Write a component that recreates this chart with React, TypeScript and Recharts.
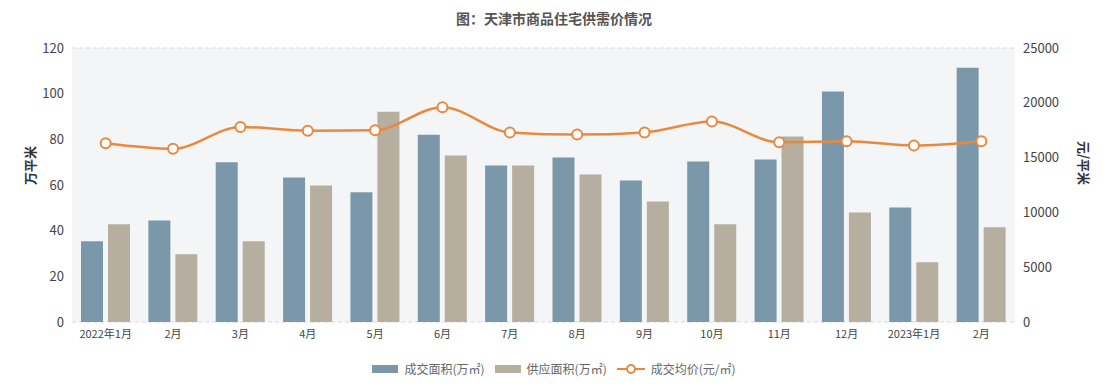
import React from "react";
import {
  ComposedChart,
  Bar,
  Line,
  XAxis,
  YAxis,
  CartesianGrid,
} from "recharts";

const months = [
  "2022年1月", "2月", "3月", "4月", "5月", "6月", "7月",
  "8月", "9月", "10月", "11月", "12月", "2023年1月", "2月",
];
const dealArea = [35.4, 44.5, 70, 63.3, 56.8, 82, 68.5, 72, 62, 70.3, 71.2, 100.9, 50.2, 111.4];
const supplyArea = [42.8, 29.7, 35.4, 59.8, 92.1, 72.9, 68.5, 64.6, 52.8, 42.8, 81.2, 48, 26.2, 41.5];
const avgPrice = [16300, 15800, 17800, 17450, 17500, 19600, 17300, 17100, 17300, 18300, 16400, 16500, 16100, 16500];

const leftTicks = [0, 20, 40, 60, 80, 100, 120];
const rightTicks = [0, 5000, 10000, 15000, 20000, 25000];

const BLUE = "#7b98aa";
const GRAY = "#b6ae9f";
const ORANGE = "#e9893e";
const FONT = "'Noto Sans CJK SC', 'Noto Sans', sans-serif";

const data = months.map((m, i) => ({
  month: m,
  deal: dealArea[i],
  supply: supplyArea[i],
  price: avgPrice[i],
}));

function LegendBox() {
  const text = { fontSize: 12, color: "#666", marginLeft: 6 };
  return (
    <div style={{ position: "absolute", top: 360, width: "100%", display: "flex", justifyContent: "center", alignItems: "center", fontFamily: FONT }}>
      <span style={{ display: "inline-block", width: 26, height: 8, background: BLUE }} />
      <span style={{ ...text, marginRight: 10 }}>成交面积(万㎡)</span>
      <span style={{ display: "inline-block", width: 26, height: 8, background: GRAY }} />
      <span style={{ ...text, marginRight: 10 }}>供应面积(万㎡)</span>
      <svg width={28} height={12}>
        <line x1={0} y1={6} x2={28} y2={6} stroke={ORANGE} strokeWidth={2} />
        <circle cx={14} cy={6} r={4} fill="#fff" stroke={ORANGE} strokeWidth={2} />
      </svg>
      <span style={text}>成交均价(元/㎡)</span>
    </div>
  );
}

export default function App() {
  return (
    <div style={{ position: "absolute", left: 0, top: 0, width: 1108, height: 390, background: "#fff", fontFamily: FONT }}>
      <div style={{ position: "absolute", top: 8, width: "100%", textAlign: "center", fontSize: 14, color: "#555", fontWeight: 600 }}>
        图：天津市商品住宅供需价情况
      </div>
      <ComposedChart
        width={1108}
        height={390}
        data={data}
        margin={{ top: 48, right: 30, left: 14, bottom: 40 }}
        barSize={22}
        barGap={5}
      >
        <CartesianGrid vertical={false} stroke="#d8d8d8" strokeDasharray="4 3" fill="#f4f5f7" />
        <XAxis
          dataKey="month"
          tickLine={false}
          axisLine={false}
          interval={0}
          tick={{ fontSize: 11, fill: "#444" }}
          height={28}
        />
        <YAxis
          yAxisId="left"
          domain={[0, 120]}
          ticks={leftTicks}
          tickLine={false}
          axisLine={false}
          tick={{ fontSize: 13, fill: "#444" }}
          width={58}
          label={{ value: "万平米", angle: -90, position: "insideLeft", offset: 16, style: { fontSize: 13, fill: "#333", fontWeight: 600 } }}
        />
        <YAxis
          yAxisId="right"
          orientation="right"
          domain={[0, 25000]}
          ticks={rightTicks}
          tickLine={false}
          axisLine={false}
          tick={{ fontSize: 13, fill: "#444", textAnchor: "start" }}
          width={63}
          label={{ value: "元/平米", angle: 90, position: "insideRight", offset: -6, style: { fontSize: 13, fill: "#333", fontWeight: 600 } }}
        />
        <Bar yAxisId="left" dataKey="deal" fill={BLUE} isAnimationActive={false} />
        <Bar yAxisId="left" dataKey="supply" fill={GRAY} isAnimationActive={false} />
        <Line
          yAxisId="right"
          dataKey="price"
          type="monotone"
          stroke={ORANGE}
          strokeWidth={2.5}
          dot={{ r: 5, fill: "#fff", stroke: ORANGE, strokeWidth: 2 }}
          isAnimationActive={false}
        />
      </ComposedChart>
      <LegendBox />
    </div>
  );
}
